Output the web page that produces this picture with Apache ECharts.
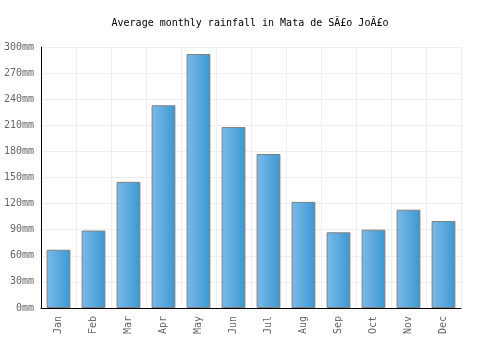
<!DOCTYPE html>
<html>
<head>
<meta charset="utf-8">
<script src="https://cdn.jsdelivr.net/npm/echarts@6/dist/echarts.min.js"></script>
<style>
    html, body { margin: 0; padding: 0; background: #fff; }
    #chart { width: 500px; height: 350px; }
</style>
</head>
<body>
<div id="chart"></div>
<script>
    var months = ['Jan', 'Feb', 'Mar', 'Apr', 'May', 'Jun', 'Jul', 'Aug', 'Sep', 'Oct', 'Nov', 'Dec'];
    var rainfall = [67, 89, 145, 233, 292, 208, 177, 122, 87, 90, 113, 100];
    var titleText = 'Average monthly rainfall in Mata de S\u00c3\u00a3o Jo\u00c3\u00a3o';

    var mono = '"DejaVu Sans Mono", monospace';
    var chart = echarts.init(document.getElementById('chart'));

    var option = {
        animation: false,
        title: {
            text: titleText,
            left: 'center',
            top: 13,
            textStyle: {
                fontFamily: mono,
                fontSize: 10,
                fontWeight: 'normal',
                color: '#000'
            }
        },
        grid: {
            left: 41,
            right: 39,
            top: 47,
            bottom: 42
        },
        xAxis: {
            type: 'category',
            data: months,
            axisLine: { lineStyle: { color: '#000', width: 1 } },
            axisTick: { show: false },
            splitLine: { show: true, lineStyle: { color: '#eeeeee' } },
            axisLabel: {
                rotate: 90,
                interval: 0,
                fontFamily: mono,
                fontSize: 10,
                color: '#666',
                margin: 8
            }
        },
        yAxis: {
            type: 'value',
            min: 0,
            max: 300,
            interval: 30,
            axisLine: { show: true, lineStyle: { color: '#000', width: 1 } },
            axisTick: { show: false },
            splitLine: { lineStyle: { color: '#eeeeee' } },
            axisLabel: {
                formatter: '{value}mm',
                fontFamily: mono,
                fontSize: 10,
                color: '#666',
                margin: 7
            }
        },
        series: [{
            type: 'bar',
            data: rainfall,
            barWidth: '68%',
            itemStyle: {
                color: new echarts.graphic.LinearGradient(0, 0, 1, 0, [
                    { offset: 0, color: '#7cbaea' },
                    { offset: 1, color: '#3a98d2' }
                ]),
                borderColor: '#808080',
                borderWidth: 1
            }
        }]
    };

    chart.setOption(option);
</script>
</body>
</html>
